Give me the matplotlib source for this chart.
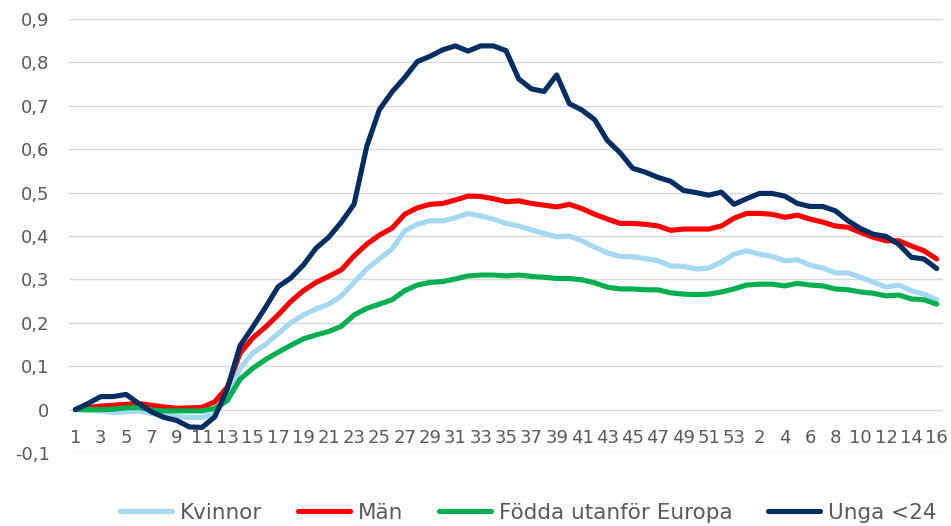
import numpy as np
import matplotlib
matplotlib.use("Agg")
from matplotlib import pyplot as plt
from matplotlib.ticker import FuncFormatter

# veckor: 1-53 och sedan 1-16 året efter
veckor = [str(v) for v in range(1, 54)] + [str(v) for v in range(1, 17)]

kvinnor = [0, -0.002, -0.003, -0.007, -0.005, -0.003, -0.009, -0.012, -0.016, -0.018,
           -0.018, -0.009, 0.025, 0.095, 0.13, 0.15, 0.175, 0.2, 0.218, 0.232,
           0.243, 0.262, 0.293, 0.324, 0.347, 0.37, 0.412, 0.427, 0.435, 0.435,
           0.442, 0.452, 0.446, 0.439, 0.429, 0.423, 0.414, 0.406, 0.398, 0.4,
           0.389, 0.374, 0.361, 0.353, 0.352, 0.348, 0.343, 0.331, 0.33, 0.324,
           0.326, 0.34, 0.358, 0.366, 0.358, 0.353, 0.343, 0.345, 0.333, 0.326,
           0.315, 0.315, 0.305, 0.294, 0.282, 0.287, 0.274, 0.266, 0.253]
man = [0, 0.005, 0.008, 0.01, 0.012, 0.014, 0.01, 0.006, 0.003, 0.004,
       0.005, 0.018, 0.052, 0.13, 0.165, 0.19, 0.218, 0.249, 0.274, 0.293,
       0.307, 0.322, 0.354, 0.381, 0.402, 0.418, 0.45, 0.465, 0.473, 0.475,
       0.483, 0.492, 0.491, 0.486, 0.479, 0.481, 0.475, 0.471, 0.467, 0.473,
       0.463, 0.45, 0.439, 0.429, 0.429, 0.427, 0.423, 0.413, 0.416, 0.416,
       0.416, 0.423, 0.441, 0.452, 0.452, 0.45, 0.443, 0.448, 0.439, 0.432,
       0.423, 0.42, 0.408, 0.397, 0.389, 0.389, 0.377, 0.366, 0.347]
fodda = [0, 0, 0, 0.001, 0.004, 0.005, -0.001, -0.003, -0.003, -0.003,
         -0.003, 0.003, 0.021, 0.07, 0.095, 0.115, 0.132, 0.148, 0.163, 0.172,
         0.18, 0.192, 0.218, 0.233, 0.243, 0.253, 0.274, 0.287, 0.293, 0.295,
         0.301, 0.308, 0.31, 0.31, 0.308, 0.31, 0.307, 0.305, 0.302, 0.302,
         0.299, 0.292, 0.282, 0.278, 0.278, 0.276, 0.276, 0.269, 0.266, 0.265,
         0.266, 0.271, 0.278, 0.287, 0.289, 0.289, 0.285, 0.291, 0.287, 0.285,
         0.278, 0.276, 0.271, 0.268, 0.262, 0.264, 0.255, 0.253, 0.243]
unga = [0, 0.014, 0.03, 0.03, 0.035, 0.014, -0.005, -0.018, -0.025, -0.04,
        -0.041, -0.017, 0.048, 0.147, 0.19, 0.235, 0.283, 0.303, 0.333, 0.372,
        0.397, 0.432, 0.473, 0.606, 0.691, 0.732, 0.765, 0.802, 0.814, 0.829,
        0.838, 0.826, 0.838, 0.838, 0.827, 0.762, 0.739, 0.733, 0.771, 0.705,
        0.69, 0.668, 0.62, 0.592, 0.556, 0.547, 0.535, 0.526, 0.505, 0.5,
        0.494, 0.501, 0.473, 0.486, 0.498, 0.498, 0.492, 0.475, 0.468, 0.468,
        0.458, 0.435, 0.417, 0.404, 0.399, 0.381, 0.351, 0.347, 0.325]

serier = [("Kvinnor", kvinnor, "#A5D8F2"),
          ("Män", man, "#FF0000"),
          ("Födda utanför Europa", fodda, "#00B050"),
          ("Unga <24", unga, "#002D62")]

textfarg = "#595959"
plt.rcParams["font.family"] = ["DejaVu Sans"]

fig = plt.figure(figsize=(9.51, 5.26), dpi=100)
ax = fig.add_axes([0.0726, 0.1388, 0.919, 0.8251])

x = np.arange(len(veckor))
for namn, y, farg in serier:
    ax.plot(x, y, color=farg, lw=3.7, label=namn, solid_capstyle="round",
            solid_joinstyle="round")

ax.set_xlim(-0.5, len(veckor) - 0.5)
ax.set_ylim(-0.1, 0.9)
ax.set_yticks(np.arange(-0.1, 0.91, 0.1))
ax.yaxis.set_major_formatter(FuncFormatter(
    lambda v, p: "0" if abs(v) < 1e-9 else ("%.1f" % v).replace(".", ",")))
ax.grid(axis="y", color="#D9D9D9", lw=1.0)
ax.set_axisbelow(True)

ax.set_xticks(x[::2])
ax.set_xticklabels(veckor[::2])
ax.spines["bottom"].set_position(("data", 0))
for s in ax.spines.values():
    s.set_visible(False)
ax.tick_params(axis="both", length=0, labelsize=13, colors=textfarg)
ax.tick_params(axis="x", pad=14)
ax.tick_params(axis="y", pad=14)

fig.legend(loc="center left", bbox_to_anchor=(120 / 951, 1 - 513 / 526),
           ncol=4, frameon=False, fontsize=15.5, labelcolor=textfarg,
           handlelength=2.4, handletextpad=0.37, columnspacing=1.67,
           borderpad=0, borderaxespad=0)

fig.savefig("out.png", dpi=100)
